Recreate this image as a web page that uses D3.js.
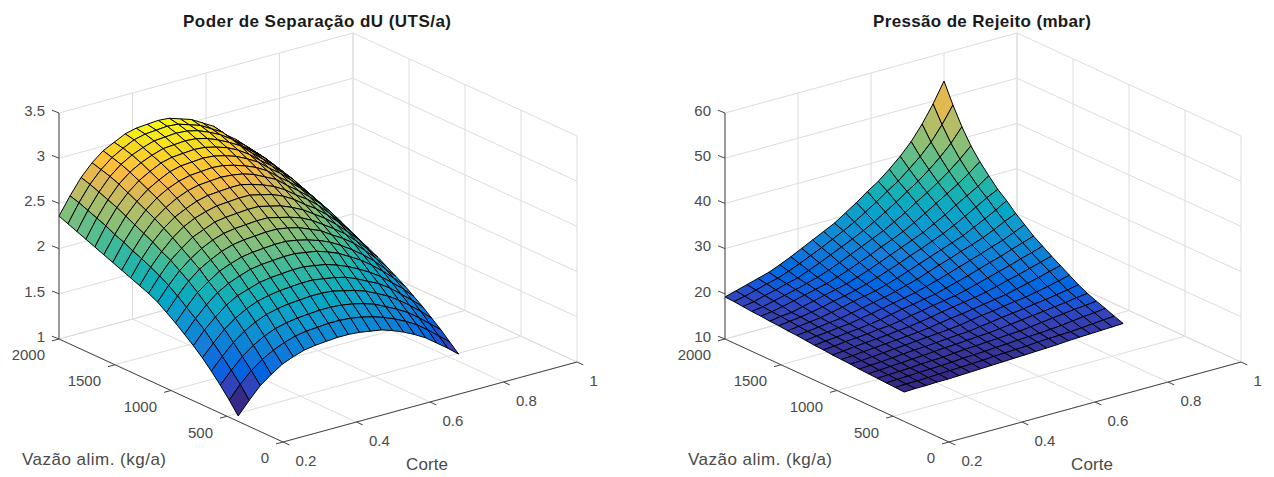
<!DOCTYPE html>
<html>
<head>
<meta charset="utf-8">
<script src="https://cdn.jsdelivr.net/npm/d3@7"></script>
<style>
  html, body { margin: 0; padding: 0; background: #fff; }
  text { font-family: "Liberation Sans", Arial, sans-serif; }
</style>
</head>
<body>
<svg id="fig" width="1274" height="477">
  <defs>
    <filter id="soft" filterUnits="userSpaceOnUse" x="0" y="0" width="1274" height="477">
      <feGaussianBlur stdDeviation="0.35"></feGaussianBlur>
    </filter>
  </defs>
</svg>
<script>
// grid of the two surfaces
const corteGrid = [0.2, 0.23, 0.26, 0.29, 0.32, 0.35, 0.38, 0.41, 0.44, 0.47, 0.5, 0.53, 0.56, 0.59, 0.62, 0.65, 0.68, 0.71, 0.74, 0.77, 0.8];
const vazaoGrid = [400, 480, 560, 640, 720, 800, 880, 960, 1040, 1120, 1200, 1280, 1360, 1440, 1520, 1600, 1680, 1760, 1840, 1920, 2000];

const corteTicks = [0.2, 0.4, 0.6, 0.8, 1];
const vazaoTicks = [0, 500, 1000, 1500, 2000];
const separacaoTicks = [1, 1.5, 2, 2.5, 3, 3.5];
const rejeitoTicks = [10, 20, 30, 40, 50, 60];

// Poder de separacao, one row per vazao, one column per corte
const zSeparacao = [
  [1.06,1.20,1.33,1.42,1.50,1.55,1.59,1.61,1.62,1.63,1.63,1.62,1.60,1.58,1.54,1.49,1.43,1.36,1.27,1.18,1.08],
  [1.19,1.33,1.45,1.54,1.61,1.66,1.70,1.72,1.73,1.74,1.74,1.73,1.71,1.68,1.64,1.59,1.53,1.46,1.37,1.27,1.17],
  [1.31,1.44,1.56,1.65,1.72,1.77,1.80,1.82,1.83,1.84,1.84,1.83,1.81,1.78,1.74,1.68,1.62,1.55,1.46,1.36,1.26],
  [1.42,1.55,1.67,1.76,1.83,1.88,1.91,1.93,1.94,1.95,1.95,1.94,1.91,1.88,1.84,1.78,1.72,1.64,1.55,1.45,1.34],
  [1.52,1.65,1.77,1.86,1.93,1.98,2.01,2.03,2.04,2.05,2.05,2.03,2.01,1.98,1.93,1.87,1.81,1.73,1.63,1.53,1.42],
  [1.61,1.75,1.86,1.96,2.03,2.07,2.11,2.13,2.14,2.15,2.15,2.13,2.11,2.07,2.02,1.96,1.89,1.81,1.71,1.61,1.49],
  [1.69,1.83,1.95,2.05,2.12,2.17,2.21,2.23,2.24,2.25,2.25,2.23,2.21,2.17,2.12,2.05,1.98,1.89,1.79,1.68,1.56],
  [1.77,1.91,2.04,2.13,2.21,2.26,2.30,2.32,2.33,2.34,2.34,2.32,2.29,2.25,2.20,2.13,2.05,1.96,1.86,1.74,1.62],
  [1.84,1.99,2.12,2.22,2.29,2.35,2.39,2.41,2.42,2.43,2.43,2.41,2.38,2.33,2.28,2.20,2.13,2.04,1.93,1.81,1.68],
  [1.91,2.06,2.19,2.29,2.37,2.43,2.47,2.49,2.50,2.51,2.51,2.48,2.45,2.41,2.35,2.27,2.19,2.10,1.99,1.87,1.74],
  [1.96,2.12,2.26,2.36,2.45,2.50,2.55,2.57,2.58,2.59,2.59,2.56,2.53,2.48,2.42,2.34,2.26,2.16,2.05,1.93,1.79],
  [2.00,2.17,2.31,2.43,2.52,2.58,2.62,2.65,2.66,2.67,2.67,2.64,2.61,2.56,2.49,2.40,2.32,2.22,2.11,1.98,1.84],
  [2.04,2.22,2.37,2.49,2.58,2.64,2.69,2.72,2.73,2.74,2.74,2.71,2.67,2.62,2.55,2.46,2.38,2.28,2.16,2.03,1.89],
  [2.08,2.26,2.42,2.55,2.64,2.71,2.76,2.79,2.80,2.81,2.80,2.78,2.74,2.68,2.62,2.52,2.43,2.33,2.22,2.09,1.94],
  [2.12,2.31,2.47,2.60,2.70,2.77,2.82,2.85,2.86,2.87,2.86,2.83,2.79,2.74,2.67,2.57,2.48,2.38,2.26,2.13,1.98],
  [2.16,2.35,2.52,2.65,2.75,2.82,2.88,2.91,2.92,2.93,2.92,2.89,2.85,2.79,2.72,2.62,2.53,2.42,2.30,2.17,2.02],
  [2.20,2.40,2.57,2.70,2.80,2.87,2.93,2.96,2.97,2.98,2.97,2.94,2.90,2.84,2.76,2.66,2.57,2.46,2.35,2.21,2.06],
  [2.24,2.44,2.61,2.75,2.85,2.92,2.97,3.01,3.02,3.03,3.02,2.99,2.94,2.88,2.81,2.70,2.60,2.50,2.38,2.24,2.09],
  [2.28,2.48,2.65,2.79,2.89,2.96,3.01,3.05,3.06,3.07,3.06,3.03,2.98,2.92,2.84,2.73,2.63,2.53,2.41,2.27,2.12],
  [2.32,2.52,2.69,2.82,2.92,2.99,3.05,3.08,3.09,3.10,3.09,3.05,3.01,2.94,2.87,2.75,2.66,2.55,2.44,2.30,2.15],
  [2.36,2.55,2.72,2.85,2.95,3.01,3.07,3.10,3.11,3.12,3.11,3.07,3.03,2.96,2.89,2.77,2.68,2.57,2.46,2.33,2.18]
];

// Pressao de rejeito, same layout
const zRejeito = [
  [16.5,16.6,16.6,16.7,16.7,16.8,16.9,17.0,17.1,17.2,17.3,17.4,17.5,17.6,17.7,17.9,18.0,18.1,18.2,18.3,18.4],
  [16.6,16.7,16.7,16.8,16.9,17.0,17.1,17.2,17.3,17.5,17.6,17.7,17.8,18.0,18.1,18.2,18.3,18.5,18.7,18.9,19.1],
  [16.7,16.8,16.9,17.0,17.1,17.2,17.3,17.5,17.6,17.7,17.9,18.0,18.2,18.3,18.4,18.6,18.8,19.1,19.4,19.6,19.9],
  [16.8,16.9,17.0,17.1,17.3,17.4,17.5,17.7,17.9,18.0,18.2,18.3,18.5,18.6,18.9,19.2,19.5,19.8,20.1,20.3,20.6],
  [16.9,17.0,17.2,17.3,17.5,17.6,17.8,18.0,18.1,18.3,18.5,18.6,18.9,19.2,19.5,19.8,20.1,20.4,20.7,21.1,21.4],
  [17.0,17.2,17.3,17.5,17.7,17.9,18.0,18.2,18.4,18.6,18.7,19.1,19.4,19.8,20.1,20.4,20.8,21.1,21.5,21.9,22.4],
  [17.2,17.3,17.5,17.7,17.9,18.1,18.3,18.5,18.7,18.9,19.2,19.6,20.0,20.3,20.7,21.1,21.4,21.9,22.4,23.0,23.6],
  [17.3,17.5,17.7,17.9,18.1,18.3,18.5,18.7,19.0,19.4,19.8,20.1,20.5,20.9,21.3,21.7,22.3,22.9,23.5,24.2,24.8],
  [17.4,17.6,17.9,18.1,18.3,18.5,18.8,19.0,19.4,19.8,20.3,20.7,21.1,21.5,22.0,22.6,23.3,23.9,24.6,25.3,26.0],
  [17.6,17.8,18.1,18.3,18.5,18.8,19.0,19.4,19.9,20.3,20.8,21.2,21.6,22.2,22.9,23.6,24.3,25.0,25.8,26.5,27.3],
  [17.7,18.0,18.2,18.5,18.7,19.0,19.4,19.9,20.4,20.8,21.3,21.7,22.4,23.1,23.8,24.6,25.4,26.1,27.0,27.8,28.6],
  [17.9,18.2,18.4,18.7,18.9,19.4,19.8,20.3,20.8,21.3,21.8,22.5,23.2,24.0,24.8,25.6,26.4,27.3,28.1,29.1,30.2],
  [18.1,18.3,18.6,18.9,19.2,19.7,20.2,20.7,21.2,21.8,22.5,23.2,24.1,25.0,25.8,26.7,27.5,28.4,29.5,30.7,31.8],
  [18.2,18.5,18.8,19.1,19.6,20.1,20.7,21.2,21.7,22.4,23.2,24.1,25.0,25.9,26.8,27.7,28.6,29.8,31.0,32.3,33.7],
  [18.4,18.7,19.0,19.4,19.9,20.5,21.0,21.6,22.3,23.1,24.0,24.9,25.9,26.8,27.8,28.8,30.0,31.3,32.7,34.1,35.3],
  [18.5,18.9,19.1,19.7,20.3,20.9,21.5,22.1,22.9,23.8,24.8,25.8,26.8,27.8,28.8,30.1,31.4,32.9,34.3,35.7,37.4],
  [18.7,19.0,19.5,20.1,20.7,21.3,21.9,22.7,23.6,24.6,25.6,26.7,27.7,28.8,30.1,31.5,33.0,34.5,36.0,37.7,39.6],
  [18.8,19.2,19.8,20.4,21.0,21.7,22.4,23.3,24.3,25.4,26.5,27.6,28.7,30.0,31.4,33.0,34.5,36.1,37.9,39.9,42.2],
  [19.0,19.4,20.1,20.7,21.4,22.0,23.0,24.0,25.1,26.2,27.3,28.5,29.8,31.3,32.8,34.5,36.1,38.0,40.1,42.5,45.5],
  [19.2,19.7,20.4,21.1,21.7,22.6,23.6,24.7,25.8,27.0,28.2,29.5,31.0,32.6,34.3,35.9,37.9,40.0,42.5,45.7,49.4],
  [19.3,20.0,20.7,21.4,22.1,23.1,24.2,25.4,26.6,27.8,29.0,30.6,32.2,34.0,35.6,37.6,39.8,42.4,45.6,49.4,53.8]
];

// parula colormap, sampled
const parula = ["#352a87","#353dad","#2b4ac7","#0f5cdd","#0168e1","#127dd8","#0c93d2","#06a7c6","#1db3af","#4dbc92","#87bf77","#b7bd64","#e1b952","#f8ba44","#ffc337","#f7d825","#f9fb0e"];
const parulaStops = [0, 0.048, 0.079, 0.111, 0.143, 0.222, 0.302, 0.381, 0.46, 0.54, 0.62, 0.70, 0.78, 0.825, 0.857, 0.92, 1];

const svg = d3.select("#fig");

function drawSurface(cfg) {
  const g = svg.append("g");
  const marks = g.append("g").attr("filter", "url(#soft)");

  // axis frame is a parallel projection: one pixel vector per data axis
  const sCorte = d3.scaleLinear().domain([0.2, 1]).range([0, 1]);
  const sVazao = d3.scaleLinear().domain([0, 2000]).range([0, 1]);
  const sZ = d3.scaleLinear().domain(d3.extent(cfg.zTicks)).range([0, -cfg.zSpan]);

  const project = (c, f, z) => [
    cfg.ox + sCorte(c) * cfg.corteVec[0] + sVazao(f) * cfg.vazaoVec[0],
    cfg.oy + sCorte(c) * cfg.corteVec[1] + sVazao(f) * cfg.vazaoVec[1] + sZ(z)
  ];

  const zMin = sZ.domain()[0], zMax = sZ.domain()[1];
  const zRange = d3.extent(cfg.z.flat());
  const color = d3.scaleLinear()
    .domain(parulaStops.map(t => zRange[0] + t * (zRange[1] - zRange[0])))
    .range(parula)
    .clamp(true);

  const line = d3.line();
  const gridLines = [];
  cfg.zTicks.forEach(z => {
    gridLines.push([project(0.2, 2000, z), project(1, 2000, z)]);
    gridLines.push([project(1, 2000, z), project(1, 0, z)]);
  });
  corteTicks.forEach(c => {
    gridLines.push([project(c, 0, zMin), project(c, 2000, zMin)]);
    gridLines.push([project(c, 2000, zMin), project(c, 2000, zMax)]);
  });
  vazaoTicks.forEach(f => {
    gridLines.push([project(0.2, f, zMin), project(1, f, zMin)]);
    gridLines.push([project(1, f, zMin), project(1, f, zMax)]);
  });

  marks.selectAll("path.grid")
    .data(gridLines)
    .enter()
    .append("path")
    .attr("class", "grid")
    .attr("d", d => line(d))
    .attr("fill", "none")
    .attr("stroke", "#dcdcdc")
    .attr("stroke-width", 1);

  // far cells first so the nearer ones cover them
  const cells = [];
  for (let j = vazaoGrid.length - 2; j >= 0; j--) {
    for (let i = corteGrid.length - 2; i >= 0; i--) {
      cells.push({ i, j });
    }
  }

  marks.selectAll("path.cell")
    .data(cells)
    .enter()
    .append("path")
    .attr("class", "cell")
    .attr("d", d => line([
      project(corteGrid[d.i], vazaoGrid[d.j], cfg.z[d.j][d.i]),
      project(corteGrid[d.i + 1], vazaoGrid[d.j], cfg.z[d.j][d.i + 1]),
      project(corteGrid[d.i + 1], vazaoGrid[d.j + 1], cfg.z[d.j + 1][d.i + 1]),
      project(corteGrid[d.i], vazaoGrid[d.j + 1], cfg.z[d.j + 1][d.i])
    ]) + "Z")
    .attr("fill", d => color(cfg.z[d.j][d.i]))
    .attr("stroke", "#000")
    .attr("stroke-width", 1)
    .attr("stroke-linejoin", "round");

  // axis lines
  const axisLines = [
    [project(0.2, 2000, zMin), project(0.2, 0, zMin)],
    [project(0.2, 0, zMin), project(1, 0, zMin)],
    [project(0.2, 2000, zMin), project(0.2, 2000, zMax)]
  ];
  const tick = 7;
  cfg.zTicks.forEach(z => {
    const p = project(0.2, 2000, z);
    axisLines.push([p, [p[0] - tick, p[1] - tick * 0.4]]);
  });
  vazaoTicks.forEach(f => {
    const p = project(0.2, f, zMin);
    axisLines.push([p, [p[0] - tick, p[1] + tick * 0.27]]);
  });
  corteTicks.forEach(c => {
    const p = project(c, 0, zMin);
    axisLines.push([p, [p[0] + tick * 0.9, p[1] + tick * 0.42]]);
  });

  marks.selectAll("path.axis")
    .data(axisLines)
    .enter()
    .append("path")
    .attr("class", "axis")
    .attr("d", d => line(d))
    .attr("fill", "none")
    .attr("stroke", "#444")
    .attr("stroke-width", 1);

  const label = (x, y, s, anchor, size, weight, fill) => g.append("text")
    .attr("x", x)
    .attr("y", y)
    .attr("dy", "0.35em")
    .attr("text-anchor", anchor)
    .attr("font-size", size)
    .attr("font-weight", weight || "normal")
    .attr("fill", fill || "#4a4a4a")
    .text(s);

  cfg.zTicks.forEach(z => {
    const p = project(0.2, 2000, z);
    label(p[0] - 14, p[1] - 2.5, z, "end", 15);
  });
  vazaoTicks.forEach(f => {
    const p = project(0.2, f, zMin);
    label(p[0] - 14, p[1] + 16, f, "end", 15);
  });
  corteTicks.forEach(c => {
    const p = project(c, 0, zMin);
    label(p[0] + 12.5, p[1] + 19, c, "start", 15);
  });

  label(cfg.vazaoLabel[0], cfg.vazaoLabel[1], "Vazão alim. (kg/a)", "start", 17)
    .attr("textLength", 144);
  label(cfg.corteLabel[0], cfg.corteLabel[1], "Corte", "start", 17)
    .attr("textLength", 42);
  label(cfg.titleX, 21, cfg.title, "middle", 17, "bold", "#1a1a1a")
    .attr("textLength", cfg.titleWidth);
}

drawSurface({
  title: "Poder de Separação dU (UTS/a)",
  titleX: 317,
  titleWidth: 268,
  z: zSeparacao,
  zTicks: separacaoTicks,
  ox: 283, oy: 442,
  corteVec: [294, -80],
  vazaoVec: [-224, -103],
  zSpan: 226,
  vazaoLabel: [22, 459],
  corteLabel: [406, 464]
});

drawSurface({
  title: "Pressão de Rejeito (mbar)",
  titleX: 982,
  titleWidth: 218,
  z: zRejeito,
  zTicks: rejeitoTicks,
  ox: 949, oy: 442,
  corteVec: [292, -80],
  vazaoVec: [-224, -103],
  zSpan: 226,
  vazaoLabel: [688, 459],
  corteLabel: [1071, 464]
});
</script>
</body>
</html>
